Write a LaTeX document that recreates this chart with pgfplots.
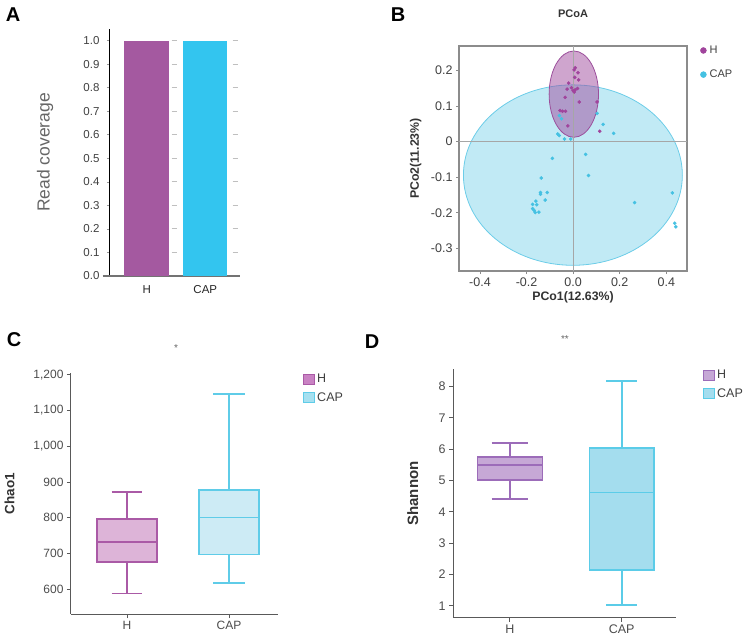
\documentclass[border=0pt]{standalone}
\usepackage{fontspec}
\setmainfont{Liberation Sans}
\usepackage{pgfplots}
\pgfplotsset{compat=1.18}

\definecolor{barH}{HTML}{A459A0}
\definecolor{barC}{HTML}{33C5EF}
\definecolor{ptH}{HTML}{A0449C}
\definecolor{ptC}{HTML}{45C1E2}
\definecolor{elH}{HTML}{9B4F9B}
\definecolor{elHf}{HTML}{A04B9E}
\definecolor{elC}{HTML}{6CCDE8}
\definecolor{elCf}{HTML}{5CC8E6}
\definecolor{cHf}{HTML}{DDB4D8}
\definecolor{cHd}{HTML}{AA5AA6}
\definecolor{cCf}{HTML}{CDEBF5}
\definecolor{cCd}{HTML}{5FCCE8}
\definecolor{cLHf}{HTML}{C982C3}
\definecolor{cLCf}{HTML}{A6E0F0}
\definecolor{dHf}{HTML}{C6A8D6}
\definecolor{dHd}{HTML}{9C6CB9}
\definecolor{dCf}{HTML}{A4DDEE}
\definecolor{dCd}{HTML}{5BCCE8}

\pgfplotsset{
  every axis title shift=0pt,
  sqleg/.style={legend image code/.code={\draw[##1, line width=1pt] (0pt,-5pt) rectangle (11pt,5pt);}},
}

\begin{document}
\begin{tikzpicture}
\useasboundingbox (0pt,0pt) rectangle (750pt,-640pt);

% panel letters
\node[font=\bfseries\fontsize{20}{20}\selectfont] at (13pt,-15pt) {A};
\node[font=\bfseries\fontsize{20}{20}\selectfont] at (398pt,-15pt) {B};
\node[font=\bfseries\fontsize{20}{20}\selectfont] at (14pt,-340pt) {C};
\node[font=\bfseries\fontsize{20}{20}\selectfont] at (372pt,-342pt) {D};

% A: read coverage
\begin{axis}[
  at={(110pt,-276pt)}, anchor=south west,
  scale only axis, width=130pt, height=247pt,
  xmin=-0.626, xmax=1.592, ymin=0, ymax=1.05,
  axis x line*=bottom, axis y line*=left,
  x axis line style={draw=black!55, line width=1.3pt},
  y axis line style={draw=black, line width=1pt},
  clip=false,
  xtick={0,1}, xticklabels={H,CAP},
  x tick style={draw=none},
  xticklabel style={yshift=-3pt, text=black!85, font=\fontsize{11.5}{13}\selectfont},
  ytick={0,0.1,0.2,0.3,0.4,0.5,0.6,0.7,0.8,0.9,1.0},
  yticklabels={0.0,0.1,0.2,0.3,0.4,0.5,0.6,0.7,0.8,0.9,1.0},
  y tick style={draw=black!40, line width=0.8pt},
  tick align=outside, major tick length=3pt,
  yticklabel style={font=\fontsize{11.5}{13}\selectfont, text=black!75, xshift=-4pt},
  ylabel={Read coverage},
  ylabel style={font=\fontsize{17.5}{20}\selectfont, text=black!60,
    at={(axis description cs:-0.5,0.5)}, anchor=center},
  bar shift=0pt,
]
\pgfplotsinvokeforeach{0.1,0.2,0.3,0.4,0.5,0.6,0.7,0.8,0.9,1.0}{
  \draw[black!25, line width=1pt, dash pattern=on 5pt off 56pt]
    (axis cs:0.427,#1) -- (axis cs:1.592,#1);
}
\draw[black!55, line width=1.3pt] (axis cs:-0.75,0) -- (axis cs:-0.626,0);
\addplot[ybar, bar width=44.5pt, fill=barH, draw=none, forget plot] coordinates {(0,1.0)};
\addplot[ybar, bar width=44pt, fill=barC, draw=none, forget plot] coordinates {(1,0.999)};
\end{axis}

% B: PCoA
\begin{axis}[
  at={(459pt,-271pt)}, anchor=south west,
  scale only axis, width=228pt, height=225pt,
  xmin=-0.49, xmax=0.489, ymin=-0.363, ymax=0.268,
  axis line style={draw=black!45, line width=1.1pt},
  xtick={-0.4,-0.2,0,0.2,0.4}, xticklabels={-0.4,-0.2,0.0,0.2,0.4},
  ytick={-0.3,-0.2,-0.1,0,0.1,0.2}, yticklabels={-0.3,-0.2,-0.1,0,0.1,0.2},
  xtick pos=left, ytick pos=left,
  tick align=outside, major tick length=3pt,
  tick style={draw=black!45, line width=0.8pt},
  tick label style={font=\fontsize{12.5}{14}\selectfont, text=black!75},
  title={PCoA},
  title style={font=\bfseries\fontsize{11}{13}\selectfont, text=black!80,
    at={(axis description cs:0.5,1.142)}, anchor=center},
  xlabel={PCo1(12.63\%)},
  xlabel style={font=\bfseries\fontsize{12.3}{14}\selectfont, text=black!80,
    at={(axis description cs:0.5,-0.116)}, anchor=center},
  ylabel={PCo2(11.23\%)},
  ylabel style={font=\bfseries\fontsize{12.3}{14}\selectfont, text=black!80,
    at={(axis description cs:-0.19,0.5)}, anchor=center},
  legend style={at={(axis description cs:1.057,1.01)}, anchor=north west,
    draw=none, fill=none, font=\fontsize{11}{12}\selectfont, text=black!75,
    row sep=11pt, inner sep=0pt, nodes={inner xsep=3pt}},
  legend cell align=left,
]
\draw[draw=elC, fill=elCf, fill opacity=0.38, line width=0.8pt]
  (axis cs:-0.001,-0.094) ellipse [x radius=0.47, y radius=0.253];
\draw[draw=elH, fill=elHf, fill opacity=0.5, line width=0.8pt]
  (axis cs:0.003,0.133) ellipse [x radius=0.106, y radius=0.121];
\addplot[black!35, line width=1pt, forget plot] coordinates {(0,-0.363) (0,0.268)};
\addplot[black!35, line width=1pt, forget plot] coordinates {(-0.49,0) (0.489,0)};
\addplot[only marks, mark=*, mark size=1.6pt, color=ptC, forget plot] coordinates {
  (0.103,0.079) (-0.059,0.073) (-0.05,0.064) (0.129,0.048) (0.174,0.023)
  (-0.066,0.021) (-0.06,0.017) (-0.037,0.007) (-0.01,0.007) (0.054,-0.036)
  (-0.089,-0.047) (0.066,-0.095) (-0.137,-0.102) (-0.111,-0.143) (-0.14,-0.143)
  (-0.14,-0.148) (-0.12,-0.164) (-0.16,-0.167) (-0.156,-0.177) (-0.174,-0.176)
  (-0.174,-0.188) (-0.167,-0.193) (-0.163,-0.199) (-0.147,-0.198) (0.264,-0.171)
  (0.426,-0.144) (0.436,-0.229) (0.441,-0.239)};
\addplot[only marks, mark=*, mark size=1.6pt, color=ptH, forget plot] coordinates {
  (0.009,0.207) (0.004,0.201) (0.021,0.193) (0.007,0.180) (0.024,0.173)
  (-0.019,0.164) (-0.007,0.151) (-0.026,0.147) (0.0,0.143) (0.009,0.145)
  (0.019,0.149) (0.005,0.139) (-0.034,0.124) (0.026,0.111) (0.103,0.111)
  (-0.056,0.087) (-0.046,0.085) (-0.033,0.085) (-0.023,0.044) (0.114,0.029)};
\addlegendimage{legend image code/.code={\fill[ptH] (3pt,0pt) circle (3pt);}}
\addlegendentry{H}
\addlegendimage{legend image code/.code={\fill[ptC] (3pt,0pt) circle (3pt);}}
\addlegendentry{CAP}
\end{axis}

% C: Chao1 (boxes: whisker low, Q1, median, Q3, whisker high)
\begin{axis}[
  at={(71pt,-614pt)}, anchor=south west,
  scale only axis, width=207pt, height=241pt,
  xmin=-0.549, xmax=1.48, ymin=531, ymax=1205,
  axis x line*=bottom, axis y line*=left,
  axis line style={draw=black!65, line width=1pt},
  xtick={0,1}, xticklabels={H,CAP},
  ytick={600,700,800,900,1000,1100,1200},
  yticklabels={600,700,800,900,{1,000},{1,100},{1,200}},
  tick align=outside, major tick length=4pt,
  tick style={draw=black!65, line width=1pt},
  tick label style={font=\fontsize{12}{14}\selectfont, text=black!70},
  ylabel={Chao1},
  ylabel style={font=\bfseries\fontsize{13.5}{15}\selectfont, text=black!80,
    at={(axis description cs:-0.297,0.5)}, anchor=center},
  title={*},
  title style={font=\fontsize{10}{12}\selectfont, text=black!60,
    at={(axis description cs:0.507,1.105)}, anchor=center},
  legend style={at={(axis description cs:1.121,1.004)}, anchor=north west,
    draw=none, fill=none, font=\fontsize{12.5}{14}\selectfont, text=black!75,
    row sep=4pt, inner sep=0pt},
  legend cell align=left,
  every axis plot/.append style={line width=1.6pt, forget plot},
]
% H
\addplot[cHd] coordinates {(0,588) (0,677)};
\addplot[cHd] coordinates {(0,797) (0,872)};
\addplot[cHd] coordinates {(-0.15,588) (0.15,588)};
\addplot[cHd] coordinates {(-0.15,872) (0.15,872)};
\addplot[draw=cHd, fill=cHf] coordinates {(-0.295,677) (0.295,677) (0.295,797) (-0.295,797)} -- cycle;
\addplot[cHd] coordinates {(-0.295,733) (0.295,733)};
% CAP
\addplot[cCd] coordinates {(1,617) (1,697)};
\addplot[cCd] coordinates {(1,878) (1,1147)};
\addplot[cCd] coordinates {(0.845,617) (1.155,617)};
\addplot[cCd] coordinates {(0.845,1147) (1.155,1147)};
\addplot[draw=cCd, fill=cCf] coordinates {(0.705,697) (1.295,697) (1.295,878) (0.705,878)} -- cycle;
\addplot[cCd] coordinates {(0.705,801) (1.295,801)};
\addlegendimage{sqleg, fill=cLHf, draw=cHd}
\addlegendentry{H}
\addlegendimage{sqleg, fill=cLCf, draw=cCd}
\addlegendentry{CAP}
\end{axis}

% D: Shannon
\begin{axis}[
  at={(453pt,-617.7pt)}, anchor=south west,
  scale only axis, width=223pt, height=248.4pt,
  xmin=-0.51, xmax=1.486, ymin=0.617, ymax=8.55,
  axis x line*=bottom, axis y line*=left,
  axis line style={draw=black!65, line width=1pt},
  xtick={0,1}, xticklabels={H,CAP},
  ytick={1,2,3,4,5,6,7,8},
  yticklabels={1,2,3,4,5,6,7,8},
  tick align=outside, major tick length=4pt,
  tick style={draw=black!65, line width=1pt},
  tick label style={font=\fontsize{12.5}{14}\selectfont, text=black!70},
  ylabel={Shannon},
  ylabel style={font=\bfseries\fontsize{15}{17}\selectfont, text=black!80,
    at={(axis description cs:-0.18,0.5)}, anchor=center},
  title={**},
  title style={font=\fontsize{10}{12}\selectfont, text=black!60,
    at={(axis description cs:0.502,1.12)}, anchor=center},
  legend style={at={(axis description cs:1.121,1.005)}, anchor=north west,
    draw=none, fill=none, font=\fontsize{12.5}{14}\selectfont, text=black!75,
    row sep=4pt, inner sep=0pt},
  legend cell align=left,
  every axis plot/.append style={line width=1.6pt, forget plot},
]
% H
\addplot[dHd] coordinates {(0,4.40) (0,5.02)};
\addplot[dHd] coordinates {(0,5.74) (0,6.19)};
\addplot[dHd] coordinates {(-0.165,4.40) (0.165,4.40)};
\addplot[dHd] coordinates {(-0.165,6.19) (0.165,6.19)};
\addplot[draw=dHd, fill=dHf] coordinates {(-0.29,5.02) (0.29,5.02) (0.29,5.74) (-0.29,5.74)} -- cycle;
\addplot[dHd] coordinates {(-0.29,5.50) (0.29,5.50)};
% CAP
\addplot[dCd] coordinates {(1,1.02) (1,2.14)};
\addplot[dCd] coordinates {(1,6.03) (1,8.17)};
\addplot[dCd] coordinates {(0.86,1.02) (1.14,1.02)};
\addplot[dCd] coordinates {(0.86,8.17) (1.14,8.17)};
\addplot[draw=dCd, fill=dCf] coordinates {(0.71,2.14) (1.29,2.14) (1.29,6.03) (0.71,6.03)} -- cycle;
\addplot[dCd] coordinates {(0.71,4.61) (1.29,4.61)};
\addlegendimage{sqleg, fill=dHf, draw=dHd}
\addlegendentry{H}
\addlegendimage{sqleg, fill=dCf, draw=dCd}
\addlegendentry{CAP}
\end{axis}
\end{tikzpicture}
\end{document}
